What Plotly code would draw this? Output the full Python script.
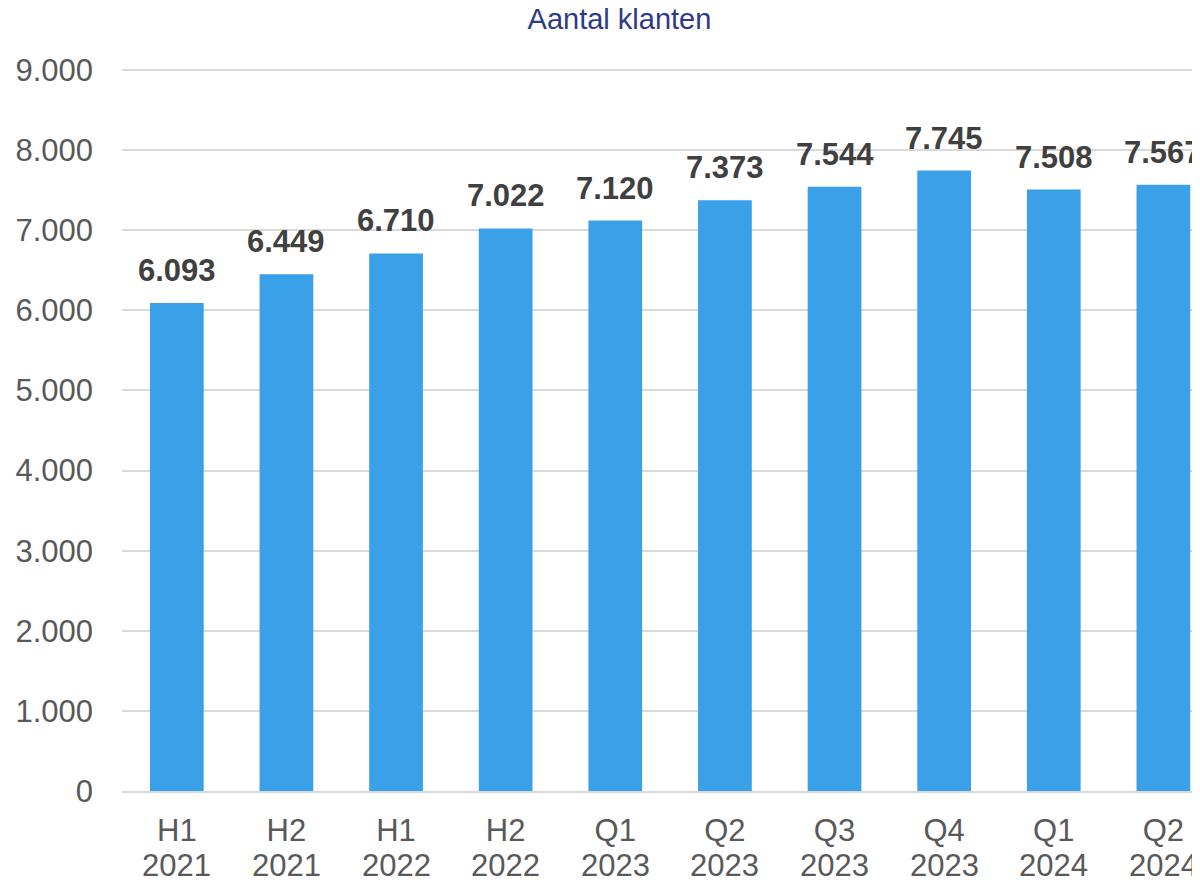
import plotly.graph_objects as go

periods = ["H1", "H2", "H1", "H2", "Q1", "Q2", "Q3", "Q4", "Q1", "Q2"]
years = ["2021", "2021", "2022", "2022", "2023", "2023", "2023", "2023", "2024", "2024"]
values = [6093, 6449, 6710, 7022, 7120, 7373, 7544, 7745, 7508, 7567]
tick_vals = [0, 1000, 2000, 3000, 4000, 5000, 6000, 7000, 8000, 9000]
tick_text = ["0", "1.000", "2.000", "3.000", "4.000", "5.000", "6.000", "7.000", "8.000", "9.000"]
value_labels = [f"{v:,}".replace(",", ".") for v in values]

FONT = "Liberation Sans, Arial, sans-serif"
x_idx = list(range(len(periods)))

fig = go.Figure()
fig.add_trace(go.Bar(
    x=x_idx, y=values, width=0.49,
    marker=dict(color="#3AA0E8", line=dict(width=0)),
    hoverinfo="skip",
))

for xi, v, lab in zip(x_idx, values, value_labels):
    fig.add_annotation(x=xi, y=v, text=f"<b>{lab}</b>", showarrow=False,
                       yanchor="bottom", yshift=13,
                       font=dict(family=FONT, size=31, color="#404040"))

for xi, yr in zip(x_idx, years):
    fig.add_annotation(x=xi, xref="x", y=0, yref="paper", text=yr, showarrow=False,
                       yanchor="middle", yshift=-74,
                       font=dict(family=FONT, size=31, color="#595959"))

# page body has an 8px margin, so the figure is sized/offset to compensate
fig.update_layout(
    width=1192, height=872,
    margin=dict(l=114, r=0, t=60, b=89, autoexpand=False),
    plot_bgcolor="white", paper_bgcolor="white",
    showlegend=False,
    title=dict(text="Aantal klanten", x=0.513, xanchor="center", y=0.988, yanchor="middle",
               font=dict(family=FONT, size=29, color="#2E3A87")),
    xaxis=dict(
        range=[-0.5, 9.334], tickmode="array", tickvals=x_idx, ticktext=periods,
        showgrid=False, showline=True, linecolor="#D9D9D9", linewidth=2,
        ticks="", ticklabelstandoff=11, automargin=False,
        tickfont=dict(family=FONT, size=31, color="#595959"),
    ),
    yaxis=dict(
        range=[0, 9025], tickmode="array", tickvals=tick_vals, ticktext=tick_text,
        showgrid=True, gridcolor="#D9D9D9", gridwidth=2, zeroline=False,
        showline=False, ticks="", ticklabelstandoff=28, automargin=False,
        tickfont=dict(family=FONT, size=31, color="#595959"),
    ),
)

fig.write_html("out.html")
